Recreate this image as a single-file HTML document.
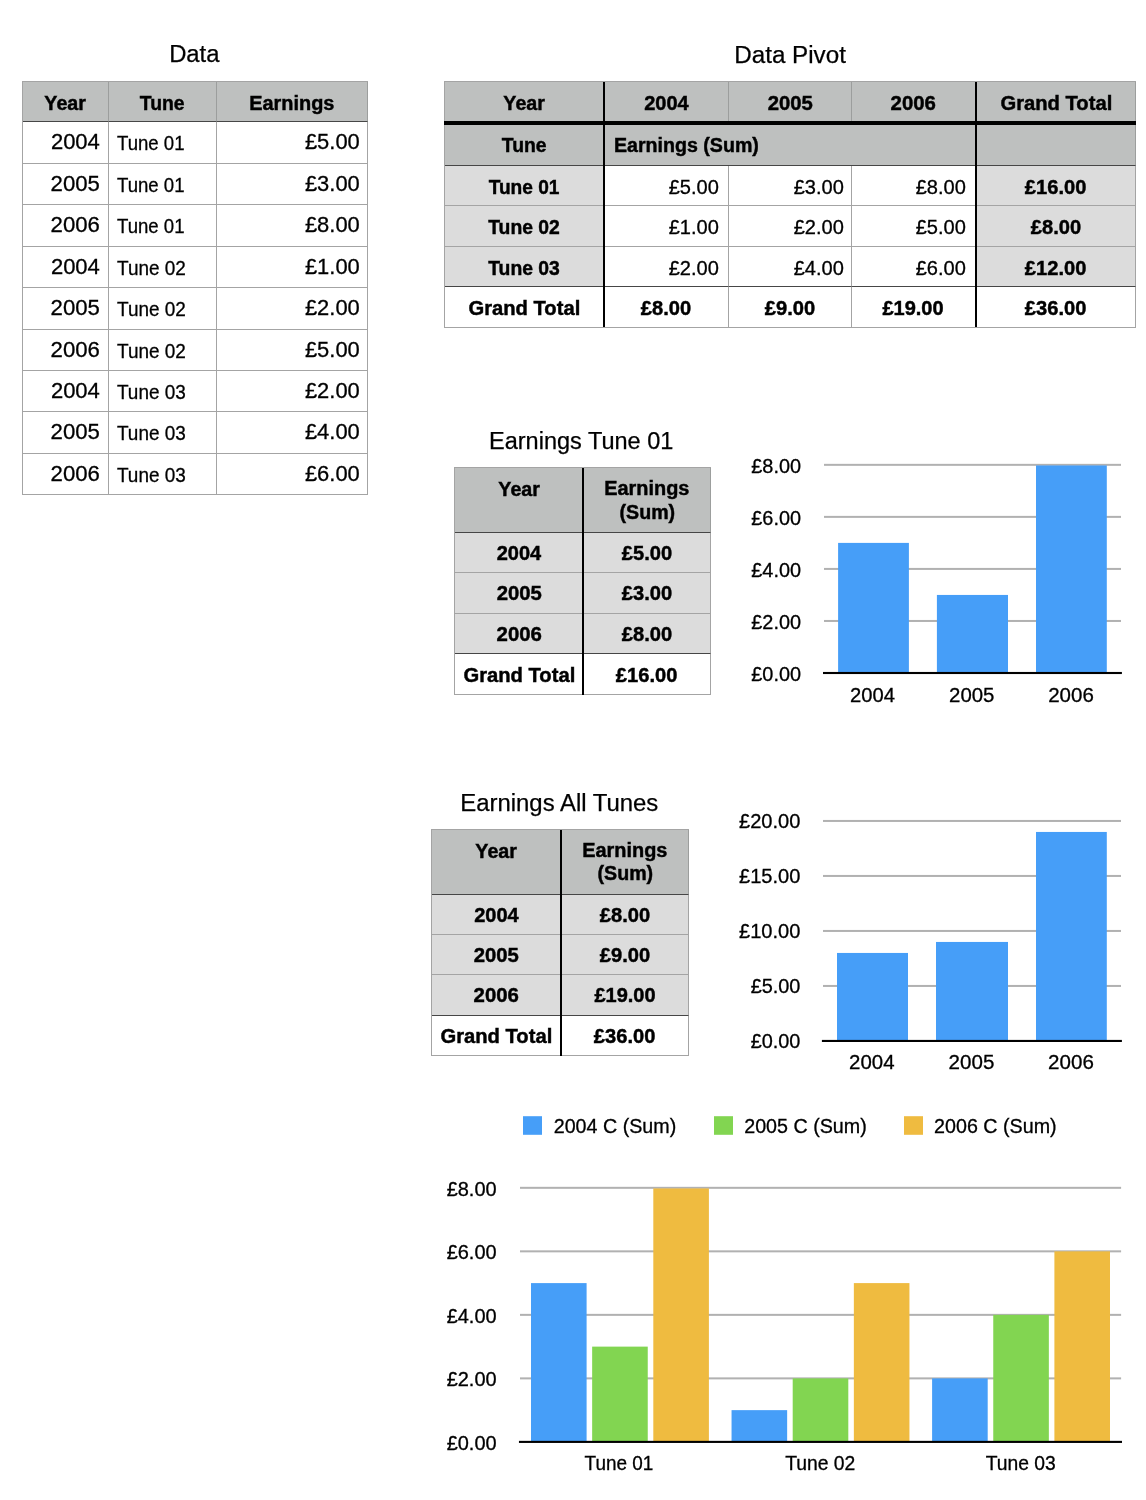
<!DOCTYPE html>
<html lang="en">
<head>
<meta charset="utf-8">
<title>Data Pivot</title>
<style>
*{box-sizing:border-box;margin:0;padding:0}
html,body{width:1146px;height:1500px;background:#fff;overflow:hidden}
body{position:relative;font-family:"Liberation Sans",Arial,Helvetica,sans-serif;color:#000;font-size:19.5px;-webkit-text-stroke:0.3px #000}
.sheet{position:absolute;left:0;top:0;width:1146px;height:1500px}
.title{position:absolute;font-size:23px;line-height:0;white-space:nowrap;text-align:center;-webkit-text-stroke:0.25px #000}
table{position:absolute;border-collapse:separate;border-spacing:0;table-layout:fixed;border-left:1px solid #a4a4a4;border-top:1px solid #a4a4a4}
td,th{border-right:1px solid #a4a4a4;border-bottom:1px solid #a4a4a4;vertical-align:top;font-weight:normal;overflow:hidden;white-space:nowrap;background:#fff}
td>div,th>div{line-height:0}
th{font-weight:bold;text-align:center;font-size:20px;-webkit-text-stroke:0.45px #000}
.fc,.fl,.fr{display:inline-block;transform-origin:50% 50%}
.fl{transform-origin:0 50%}.fr{transform-origin:100% 50%}
.hr{background:#bec0bf;border-right-color:#9c9e9d}
.hc{background:#dcdcdc}
.hb{border-bottom-color:#464646}
.c{text-align:center}.r{text-align:right}.l{text-align:left}
.rule{position:absolute;background:#000}
svg{position:absolute;overflow:visible}
svg text{font-family:"Liberation Sans",Arial,Helvetica,sans-serif;font-size:19.5px;fill:#000;stroke:#000;stroke-width:0.3px;-webkit-text-stroke:0}
</style>
</head>
<body>
<div class="sheet">
<div class="title" style="left:-5.65px;top:53.83px;width:400px;"><span class="fc" style="transform:scaleX(1.036)">Data</span></div>
<table style="left:22px;top:81px;width:346px;height:414px">
<colgroup><col style="width:86px"><col style="width:108px"><col style="width:151px"></colgroup>
<tr style="height:40px"><th class="hr hb"><div style="padding-top:20.67px;"><span class="fc" style="transform:scaleX(0.983)">Year</span></div></th><th class="hr hb"><div style="padding-top:20.67px;"><span class="fc" style="transform:scaleX(0.967)">Tune</span></div></th><th class="hr hb"><div style="padding-top:20.67px;"><span class="fc" style="transform:scaleX(0.995)">Earnings</span></div></th></tr>
<tr style="height:42px"><td class="r" style="font-size:21.5px"><div style="padding-top:19.75px;padding-right:8.6px;"><span class="fr" style="transform:scaleX(1.023)">2004</span></div></td><td class="l" style="font-size:20.0px"><div style="padding-top:20.87px;padding-left:7.8px;"><span class="fl" style="transform:scaleX(0.930)">Tune 01</span></div></td><td class="r" style="font-size:21.5px"><div style="padding-top:19.75px;padding-right:7.6px;"><span class="fr" style="transform:scaleX(1.020)">£5.00</span></div></td></tr>
<tr style="height:41px"><td class="r" style="font-size:21.5px"><div style="padding-top:19.55px;padding-right:8.6px;"><span class="fr" style="transform:scaleX(1.030)">2005</span></div></td><td class="l" style="font-size:20.0px"><div style="padding-top:20.67px;padding-left:7.8px;"><span class="fl" style="transform:scaleX(0.930)">Tune 01</span></div></td><td class="r" style="font-size:21.5px"><div style="padding-top:19.55px;padding-right:7.6px;"><span class="fr" style="transform:scaleX(1.020)">£3.00</span></div></td></tr>
<tr style="height:42px"><td class="r" style="font-size:21.5px"><div style="padding-top:19.75px;padding-right:8.6px;"><span class="fr" style="transform:scaleX(1.030)">2006</span></div></td><td class="l" style="font-size:20.0px"><div style="padding-top:20.87px;padding-left:7.8px;"><span class="fl" style="transform:scaleX(0.930)">Tune 01</span></div></td><td class="r" style="font-size:21.5px"><div style="padding-top:19.75px;padding-right:7.6px;"><span class="fr" style="transform:scaleX(1.020)">£8.00</span></div></td></tr>
<tr style="height:41px"><td class="r" style="font-size:21.5px"><div style="padding-top:19.55px;padding-right:8.6px;"><span class="fr" style="transform:scaleX(1.023)">2004</span></div></td><td class="l" style="font-size:20.0px"><div style="padding-top:20.67px;padding-left:7.8px;"><span class="fl" style="transform:scaleX(0.948)">Tune 02</span></div></td><td class="r" style="font-size:21.5px"><div style="padding-top:19.55px;padding-right:7.6px;"><span class="fr" style="transform:scaleX(1.020)">£1.00</span></div></td></tr>
<tr style="height:42px"><td class="r" style="font-size:21.5px"><div style="padding-top:19.55px;padding-right:8.6px;"><span class="fr" style="transform:scaleX(1.030)">2005</span></div></td><td class="l" style="font-size:20.0px"><div style="padding-top:20.67px;padding-left:7.8px;"><span class="fl" style="transform:scaleX(0.948)">Tune 02</span></div></td><td class="r" style="font-size:21.5px"><div style="padding-top:19.55px;padding-right:7.6px;"><span class="fr" style="transform:scaleX(1.020)">£2.00</span></div></td></tr>
<tr style="height:41px"><td class="r" style="font-size:21.5px"><div style="padding-top:19.55px;padding-right:8.6px;"><span class="fr" style="transform:scaleX(1.030)">2006</span></div></td><td class="l" style="font-size:20.0px"><div style="padding-top:20.67px;padding-left:7.8px;"><span class="fl" style="transform:scaleX(0.948)">Tune 02</span></div></td><td class="r" style="font-size:21.5px"><div style="padding-top:19.55px;padding-right:7.6px;"><span class="fr" style="transform:scaleX(1.020)">£5.00</span></div></td></tr>
<tr style="height:41px"><td class="r" style="font-size:21.5px"><div style="padding-top:19.75px;padding-right:8.6px;"><span class="fr" style="transform:scaleX(1.023)">2004</span></div></td><td class="l" style="font-size:20.0px"><div style="padding-top:20.87px;padding-left:7.8px;"><span class="fl" style="transform:scaleX(0.947)">Tune 03</span></div></td><td class="r" style="font-size:21.5px"><div style="padding-top:19.75px;padding-right:7.6px;"><span class="fr" style="transform:scaleX(1.020)">£2.00</span></div></td></tr>
<tr style="height:42px"><td class="r" style="font-size:21.5px"><div style="padding-top:19.95px;padding-right:8.6px;"><span class="fr" style="transform:scaleX(1.030)">2005</span></div></td><td class="l" style="font-size:20.0px"><div style="padding-top:21.07px;padding-left:7.8px;"><span class="fl" style="transform:scaleX(0.947)">Tune 03</span></div></td><td class="r" style="font-size:21.5px"><div style="padding-top:19.95px;padding-right:7.6px;"><span class="fr" style="transform:scaleX(1.020)">£4.00</span></div></td></tr>
<tr style="height:41px"><td class="r" style="font-size:21.5px"><div style="padding-top:19.75px;padding-right:8.6px;"><span class="fr" style="transform:scaleX(1.030)">2006</span></div></td><td class="l" style="font-size:20.0px"><div style="padding-top:20.87px;padding-left:7.8px;"><span class="fl" style="transform:scaleX(0.947)">Tune 03</span></div></td><td class="r" style="font-size:21.5px"><div style="padding-top:19.75px;padding-right:7.6px;"><span class="fr" style="transform:scaleX(1.020)">£6.00</span></div></td></tr>
</table>
<div class="title" style="left:589.92px;top:54.73px;width:400px;"><span class="fc" style="transform:scaleX(1.052)">Data Pivot</span></div>
<table style="left:444px;top:81px;width:692px;height:247px">
<colgroup><col style="width:160px"><col style="width:124px"><col style="width:123px"><col style="width:125px"><col style="width:159px"></colgroup>
<tr style="height:43px"><th class="hr"><div style="padding-top:20.87px;"><span class="fc" style="transform:scaleX(0.983)">Year</span></div></th><th class="hr"><div style="padding-top:20.87px;"><span class="fc">2004</span></div></th><th class="hr"><div style="padding-top:20.87px;"><span class="fc" style="transform:scaleX(1.014)">2005</span></div></th><th class="hr"><div style="padding-top:20.87px;padding-right:2px;"><span class="fc" style="transform:scaleX(1.019)">2006</span></div></th><th class="hr"><div style="padding-top:20.87px;"><span class="fc" style="transform:scaleX(1.009)">Grand Total</span></div></th></tr>
<tr style="height:41px"><th class="hr hb"><div style="padding-top:20.47px;"><span class="fc" style="transform:scaleX(0.967)">Tune</span></div></th><th class="hr hb l" colspan="3"><div style="padding-top:20.47px;padding-left:8.8px;"><span class="fl" style="transform:scaleX(0.980)">Earnings (Sum)</span></div></th><th class="hr hb"><div style="padding-top:3.07px;"></div></th></tr>
<tr style="height:40px"><th class="hc"><div style="padding-top:20.97px;"><span class="fc" style="transform:scaleX(0.956)">Tune 01</span></div></th><td class="r"><div style="padding-top:21.14px;padding-right:9.6px;"><span class="fr" style="transform:scaleX(1.028)">£5.00</span></div></td><td class="r"><div style="padding-top:21.14px;padding-right:7.7px;"><span class="fr" style="transform:scaleX(1.028)">£3.00</span></div></td><td class="r"><div style="padding-top:21.14px;padding-right:10.4px;"><span class="fr" style="transform:scaleX(1.028)">£8.00</span></div></td><th class="hc"><div style="padding-top:20.97px;"><span class="fc" style="transform:scaleX(1.005)">£16.00</span></div></th></tr>
<tr style="height:41px"><th class="hc"><div style="padding-top:20.87px;"><span class="fc" style="transform:scaleX(0.967)">Tune 02</span></div></th><td class="r"><div style="padding-top:21.04px;padding-right:9.6px;"><span class="fr" style="transform:scaleX(1.028)">£1.00</span></div></td><td class="r"><div style="padding-top:21.04px;padding-right:7.7px;"><span class="fr" style="transform:scaleX(1.028)">£2.00</span></div></td><td class="r"><div style="padding-top:21.04px;padding-right:10.4px;"><span class="fr" style="transform:scaleX(1.028)">£5.00</span></div></td><th class="hc"><div style="padding-top:20.87px;"><span class="fc" style="transform:scaleX(1.006)">£8.00</span></div></th></tr>
<tr style="height:40px"><th class="hc hb"><div style="padding-top:20.67px;"><span class="fc" style="transform:scaleX(0.967)">Tune 03</span></div></th><td class="r hb"><div style="padding-top:20.84px;padding-right:9.6px;"><span class="fr" style="transform:scaleX(1.028)">£2.00</span></div></td><td class="r hb"><div style="padding-top:20.84px;padding-right:7.7px;"><span class="fr" style="transform:scaleX(1.028)">£4.00</span></div></td><td class="r hb"><div style="padding-top:20.84px;padding-right:10.4px;"><span class="fr" style="transform:scaleX(1.028)">£6.00</span></div></td><th class="hc hb"><div style="padding-top:20.67px;"><span class="fc" style="transform:scaleX(1.005)">£12.00</span></div></th></tr>
<tr style="height:41px"><th class=""><div style="padding-top:20.87px;"><span class="fc" style="transform:scaleX(1.009)">Grand Total</span></div></th><th class=""><div style="padding-top:20.87px;"><span class="fc" style="transform:scaleX(1.006)">£8.00</span></div></th><th class=""><div style="padding-top:20.87px;"><span class="fc" style="transform:scaleX(1.006)">£9.00</span></div></th><th class=""><div style="padding-top:20.87px;padding-right:2px;"><span class="fc">£19.00</span></div></th><th class=""><div style="padding-top:20.87px;"><span class="fc" style="transform:scaleX(1.005)">£36.00</span></div></th></tr>
</table>
<div class="rule" style="left:444px;top:121px;width:692px;height:4px"></div>
<div class="rule" style="left:603px;top:82px;width:2px;height:245px"></div>
<div class="rule" style="left:975px;top:82px;width:2px;height:245px"></div>
<div class="title" style="left:380.99px;top:440.73px;width:400px;"><span class="fc" style="transform:scaleX(1.022)">Earnings Tune 01</span></div>
<table style="left:454px;top:467px;width:257px;height:228px">
<colgroup><col style="width:129px"><col style="width:127px"></colgroup>
<tr style="height:65px"><th class="hr hb"><div style="padding-top:20.97px;"><span class="fc" style="transform:scaleX(0.983)">Year</span></div></th><th class="hr hb"><div style="padding-top:9.37px;line-height:23.2px;"><span class="fc" style="transform:scaleX(0.995)">Earnings</span><br><span class="fc" style="transform:scaleX(0.980)">(Sum)</span></div></th></tr>
<tr style="height:40px"><th class="hc"><div style="padding-top:20.17px;"><span class="fc">2004</span></div></th><th class="hc"><div style="padding-top:20.17px;"><span class="fc" style="transform:scaleX(1.006)">£5.00</span></div></th></tr>
<tr style="height:41px"><th class="hc"><div style="padding-top:20.47px;"><span class="fc" style="transform:scaleX(1.014)">2005</span></div></th><th class="hc"><div style="padding-top:20.47px;"><span class="fc" style="transform:scaleX(1.006)">£3.00</span></div></th></tr>
<tr style="height:40px"><th class="hc hb"><div style="padding-top:20.27px;"><span class="fc" style="transform:scaleX(1.019)">2006</span></div></th><th class="hc hb"><div style="padding-top:20.27px;"><span class="fc" style="transform:scaleX(1.006)">£8.00</span></div></th></tr>
<tr style="height:41px"><th class=""><div style="padding-top:20.57px;"><span class="fc" style="transform:scaleX(1.009)">Grand Total</span></div></th><th class=""><div style="padding-top:20.57px;"><span class="fc" style="transform:scaleX(1.005)">£16.00</span></div></th></tr>
</table>
<div class="rule" style="left:582px;top:468px;width:2px;height:227px"></div>
<div class="title" style="left:359.76px;top:802.73px;width:400px;"><span class="fc" style="transform:scaleX(1.040)">Earnings All Tunes</span></div>
<table style="left:431px;top:829px;width:258px;height:227px">
<colgroup><col style="width:130px"><col style="width:127px"></colgroup>
<tr style="height:65px"><th class="hr hb"><div style="padding-top:20.67px;"><span class="fc" style="transform:scaleX(0.983)">Year</span></div></th><th class="hr hb"><div style="padding-top:9.07px;line-height:23.2px;"><span class="fc" style="transform:scaleX(0.995)">Earnings</span><br><span class="fc" style="transform:scaleX(0.980)">(Sum)</span></div></th></tr>
<tr style="height:40px"><th class="hc"><div style="padding-top:20.37px;"><span class="fc">2004</span></div></th><th class="hc"><div style="padding-top:20.37px;"><span class="fc" style="transform:scaleX(1.006)">£8.00</span></div></th></tr>
<tr style="height:40px"><th class="hc"><div style="padding-top:20.17px;"><span class="fc" style="transform:scaleX(1.014)">2005</span></div></th><th class="hc"><div style="padding-top:20.17px;"><span class="fc" style="transform:scaleX(1.006)">£9.00</span></div></th></tr>
<tr style="height:41px"><th class="hc hb"><div style="padding-top:20.07px;"><span class="fc" style="transform:scaleX(1.019)">2006</span></div></th><th class="hc hb"><div style="padding-top:20.07px;"><span class="fc">£19.00</span></div></th></tr>
<tr style="height:40px"><th class=""><div style="padding-top:19.87px;"><span class="fc" style="transform:scaleX(1.009)">Grand Total</span></div></th><th class=""><div style="padding-top:19.87px;"><span class="fc" style="transform:scaleX(1.005)">£36.00</span></div></th></tr>
</table>
<div class="rule" style="left:560px;top:830px;width:2px;height:226px"></div>
<svg style="left:730px;top:440px" width="416" height="290" viewBox="730 440 416 290">
<rect x="824.0" y="619.96" width="297.00" height="2" fill="#b1b1b1"/>
<rect x="824.0" y="567.92" width="297.00" height="2" fill="#b1b1b1"/>
<rect x="824.0" y="515.88" width="297.00" height="2" fill="#b1b1b1"/>
<rect x="824.0" y="463.84" width="297.00" height="2" fill="#b1b1b1"/>
<rect x="838.10" y="542.90" width="70.80" height="130.10" fill="#469ef8"/>
<rect x="936.90" y="594.94" width="71.10" height="78.06" fill="#469ef8"/>
<rect x="1036.00" y="465.44" width="70.80" height="207.56" fill="#469ef8"/>
<rect x="823.0" y="671.95" width="298.90" height="2.1" fill="#000"/>
<text x="801.05" y="680.80" text-anchor="end" textLength="49.8" lengthAdjust="spacingAndGlyphs">£0.00</text>
<text x="801.05" y="628.76" text-anchor="end" textLength="49.8" lengthAdjust="spacingAndGlyphs">£2.00</text>
<text x="801.05" y="576.72" text-anchor="end" textLength="49.8" lengthAdjust="spacingAndGlyphs">£4.00</text>
<text x="801.05" y="524.68" text-anchor="end" textLength="49.8" lengthAdjust="spacingAndGlyphs">£6.00</text>
<text x="801.05" y="472.64" text-anchor="end" textLength="49.8" lengthAdjust="spacingAndGlyphs">£8.00</text>
<text x="872.44" y="701.90" text-anchor="middle" textLength="44.9" lengthAdjust="spacingAndGlyphs">2004</text>
<text x="971.79" y="701.90" text-anchor="middle" textLength="45.4" lengthAdjust="spacingAndGlyphs">2005</text>
<text x="1070.99" y="701.90" text-anchor="middle" textLength="45.6" lengthAdjust="spacingAndGlyphs">2006</text>
</svg>
<svg style="left:720px;top:795px" width="426" height="295" viewBox="720 795 426 295">
<rect x="823.0" y="984.95" width="298.00" height="2" fill="#b1b1b1"/>
<rect x="823.0" y="929.95" width="298.00" height="2" fill="#b1b1b1"/>
<rect x="823.0" y="874.95" width="298.00" height="2" fill="#b1b1b1"/>
<rect x="823.0" y="819.95" width="298.00" height="2" fill="#b1b1b1"/>
<rect x="837.00" y="952.95" width="71.00" height="88.00" fill="#469ef8"/>
<rect x="936.00" y="941.95" width="72.00" height="99.00" fill="#469ef8"/>
<rect x="1036.00" y="831.95" width="70.80" height="209.00" fill="#469ef8"/>
<rect x="821.9" y="1039.90" width="300.00" height="2.1" fill="#000"/>
<text x="800.45" y="1048.45" text-anchor="end" textLength="49.8" lengthAdjust="spacingAndGlyphs">£0.00</text>
<text x="800.45" y="993.45" text-anchor="end" textLength="49.8" lengthAdjust="spacingAndGlyphs">£5.00</text>
<text x="800.38" y="938.45" text-anchor="end" textLength="61.4" lengthAdjust="spacingAndGlyphs">£10.00</text>
<text x="800.38" y="883.45" text-anchor="end" textLength="61.4" lengthAdjust="spacingAndGlyphs">£15.00</text>
<text x="800.38" y="828.45" text-anchor="end" textLength="61.4" lengthAdjust="spacingAndGlyphs">£20.00</text>
<text x="871.84" y="1069.00" text-anchor="middle" textLength="45.4" lengthAdjust="spacingAndGlyphs">2004</text>
<text x="971.49" y="1069.00" text-anchor="middle" textLength="45.7" lengthAdjust="spacingAndGlyphs">2005</text>
<text x="1070.99" y="1069.00" text-anchor="middle" textLength="45.7" lengthAdjust="spacingAndGlyphs">2006</text>
</svg>
<svg style="left:430px;top:1095px" width="716" height="405" viewBox="430 1095 716 405">
<rect x="523" y="1116.2" width="19" height="18.6" fill="#469ef8"/><text x="553.72" y="1132.70" text-anchor="start" textLength="122.5" lengthAdjust="spacingAndGlyphs">2004 C (Sum)</text><rect x="714" y="1116.2" width="19" height="18.6" fill="#82d551"/><text x="744.22" y="1132.70" text-anchor="start" textLength="122.5" lengthAdjust="spacingAndGlyphs">2005 C (Sum)</text><rect x="904" y="1116.2" width="19" height="18.6" fill="#efbb40"/><text x="934.12" y="1132.70" text-anchor="start" textLength="122.5" lengthAdjust="spacingAndGlyphs">2006 C (Sum)</text>
<rect x="520.0" y="1377.38" width="601.10" height="2" fill="#b1b1b1"/>
<rect x="520.0" y="1313.86" width="601.10" height="2" fill="#b1b1b1"/>
<rect x="520.0" y="1250.34" width="601.10" height="2" fill="#b1b1b1"/>
<rect x="520.0" y="1186.82" width="601.10" height="2" fill="#b1b1b1"/>
<rect x="531.00" y="1283.10" width="55.60" height="158.80" fill="#469ef8"/>
<rect x="592.15" y="1346.62" width="55.60" height="95.28" fill="#82d551"/>
<rect x="653.30" y="1188.42" width="55.60" height="253.48" fill="#efbb40"/>
<rect x="731.55" y="1410.14" width="55.60" height="31.76" fill="#469ef8"/>
<rect x="792.70" y="1378.38" width="55.60" height="63.52" fill="#82d551"/>
<rect x="853.85" y="1283.10" width="55.60" height="158.80" fill="#efbb40"/>
<rect x="932.10" y="1378.38" width="55.60" height="63.52" fill="#469ef8"/>
<rect x="993.25" y="1314.86" width="55.60" height="127.04" fill="#82d551"/>
<rect x="1054.40" y="1251.34" width="55.60" height="190.56" fill="#efbb40"/>
<rect x="518.95" y="1440.85" width="603.05" height="2.1" fill="#000"/>
<text x="496.65" y="1449.60" text-anchor="end" textLength="50.0" lengthAdjust="spacingAndGlyphs">£0.00</text>
<text x="496.65" y="1386.08" text-anchor="end" textLength="50.0" lengthAdjust="spacingAndGlyphs">£2.00</text>
<text x="496.65" y="1322.56" text-anchor="end" textLength="50.0" lengthAdjust="spacingAndGlyphs">£4.00</text>
<text x="496.65" y="1259.04" text-anchor="end" textLength="50.0" lengthAdjust="spacingAndGlyphs">£6.00</text>
<text x="496.65" y="1195.52" text-anchor="end" textLength="50.0" lengthAdjust="spacingAndGlyphs">£8.00</text>
<text x="618.96" y="1469.90" text-anchor="middle" textLength="68.8" lengthAdjust="spacingAndGlyphs">Tune 01</text>
<text x="820.26" y="1469.90" text-anchor="middle" textLength="70.2" lengthAdjust="spacingAndGlyphs">Tune 02</text>
<text x="1020.72" y="1469.90" text-anchor="middle" textLength="70.1" lengthAdjust="spacingAndGlyphs">Tune 03</text>
</svg>
</div>
</body>
</html>
